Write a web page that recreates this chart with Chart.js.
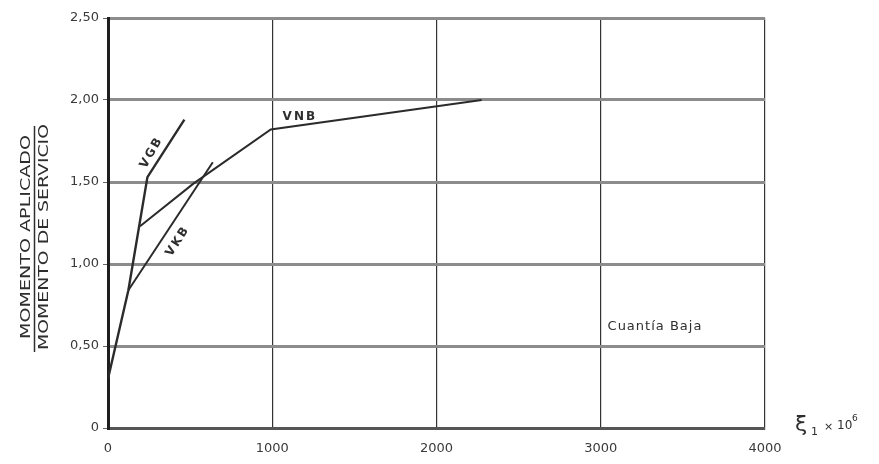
<!DOCTYPE html>
<html>
<head>
<meta charset="utf-8">
<script src="https://cdn.jsdelivr.net/npm/chart.js@4/dist/chart.umd.min.js"></script>
<style>
  html, body { margin: 0; padding: 0; background: #fff; }
  canvas { display: block; }
</style>
</head>
<body>
<canvas id="c" width="879" height="464"></canvas>
<script>
// Strain (x 10^6) and moment ratio for each beam curve
const vgbStrain = [0, 124, 240, 465];
const vgbRatio  = [0.30, 0.84, 1.53, 1.88];
const vkbStrain = [124, 638];
const vkbRatio  = [0.84, 1.62];
const vnbStrain = [195, 520, 991, 2275];
const vnbRatio  = [1.23, 1.49, 1.82, 2.00];

// Axis ticks
const xTicks = [0, 1000, 2000, 3000, 4000];
const xTickLabels = ['0', '1000', '2000', '3000', '4000'];
const yTicks = [0, 0.5, 1.0, 1.5, 2.0, 2.5];
const yTickLabels = ['0', '0,50', '1,00', '1,50', '2,00', '2,50'];

// Curve names and where they are written
const curveNames = ['VGB', 'VKB', 'VNB'];
const nameStrain = [265, 425, 1168];
const nameRatio  = [1.68, 1.14, 1.90];
const nameAngle  = [-60, -57, 0];
const noteText = 'Cuantía Baja';
const noteStrain = 3330;
const noteRatio = 0.62;

const toPoints = (xs, ys) => xs.map((x, i) => ({ x, y: ys[i] }));
const lineColor = '#2b2b2b';
const tickFont = { family: 'DejaVu Sans', size: 13 };

const labelsPlugin = {
  id: 'labels',
  afterDraw(chart) {
    const { ctx, scales: { x, y } } = chart;
    ctx.save();
    ctx.fillStyle = '#2e2e2e';
    ctx.textAlign = 'center';
    ctx.textBaseline = 'middle';

    // curve names
    curveNames.forEach((name, i) => {
      ctx.save();
      ctx.translate(x.getPixelForValue(nameStrain[i]), y.getPixelForValue(nameRatio[i]));
      ctx.rotate(nameAngle[i] * Math.PI / 180);
      ctx.font = 'bold 12px "DejaVu Sans"';
      ctx.letterSpacing = '2px';
      ctx.fillText(name, 0, 0);
      ctx.restore();
    });

    // note
    ctx.font = '13px "DejaVu Sans"';
    ctx.letterSpacing = '1px';
    ctx.fillText(noteText, x.getPixelForValue(noteStrain), y.getPixelForValue(noteRatio));
    ctx.letterSpacing = '0px';

    // y axis title as a fraction
    const midY = 237;
    const drawFit = (text, cx, len) => {
      ctx.save();
      ctx.translate(cx, midY);
      ctx.rotate(-Math.PI / 2);
      ctx.font = '14px "DejaVu Sans"';
      const w = ctx.measureText(text).width;
      ctx.scale(len / w, 1);
      ctx.fillText(text, 0, 0);
      ctx.restore();
    };
    drawFit('MOMENTO APLICADO', 26, 204);
    drawFit('MOMENTO DE SERVICIO', 44, 226);
    ctx.strokeStyle = '#2e2e2e';
    ctx.lineWidth = 1.5;
    ctx.beginPath();
    ctx.moveTo(34.5, 126);
    ctx.lineTo(34.5, 352);
    ctx.stroke();

    // x axis title
    const bx = x.right + 30, by = y.bottom;
    ctx.textAlign = 'left';
    ctx.textBaseline = 'alphabetic';
    ctx.font = '22px "DejaVu Sans"';
    ctx.fillText('ξ', bx, by + 3);
    ctx.font = '11px "DejaVu Sans"';
    ctx.fillText('1', bx + 16, by + 7);
    ctx.fillText('×', bx + 29, by + 2);
    ctx.font = '12px "DejaVu Sans"';
    ctx.fillText('10', bx + 42, by + 1);
    ctx.font = '9px "DejaVu Sans"';
    ctx.fillText('6', bx + 57, by - 7);
    ctx.restore();
  }
};

new Chart(document.getElementById('c'), {
  type: 'scatter',
  data: {
    datasets: [
      { label: curveNames[0], data: toPoints(vgbStrain, vgbRatio), borderWidth: 2.4 },
      { label: curveNames[1], data: toPoints(vkbStrain, vkbRatio), borderWidth: 2 },
      { label: curveNames[2], data: toPoints(vnbStrain, vnbRatio), borderWidth: 2 }
    ].map(d => Object.assign(d, {
      showLine: true, borderColor: lineColor, pointRadius: 0, tension: 0, fill: false
    }))
  },
  options: {
    responsive: false,
    animation: false,
    layout: { padding: { top: 18, right: 114, left: 0, bottom: 0 } },
    plugins: { legend: { display: false }, tooltip: { enabled: false } },
    scales: {
      x: {
        type: 'linear', min: 0, max: 4000,
        afterBuildTicks: s => { s.ticks = xTicks.map(v => ({ value: v })); },
        afterFit: s => { s.height = 36; },
        grid: { color: '#333', lineWidth: 1.2, drawTicks: false },
        border: { color: '#555', width: 3 },
        ticks: {
          padding: 13, color: '#3a3a3a', font: tickFont, maxRotation: 0,
          callback: v => xTickLabels[xTicks.indexOf(v)]
        }
      },
      y: {
        min: 0, max: 2.5,
        afterBuildTicks: s => { s.ticks = yTicks.map(v => ({ value: v })); },
        afterFit: s => { s.width = 108; },
        grid: { color: '#8c8c8c', lineWidth: 3, tickLength: 5, tickColor: '#666', tickWidth: 1 },
        border: { color: '#1e1e1e', width: 3 },
        ticks: {
          padding: 4, color: '#3a3a3a', font: tickFont,
          callback: v => yTickLabels[yTicks.indexOf(v)]
        }
      }
    }
  },
  plugins: [labelsPlugin]
});
</script>
</body>
</html>
